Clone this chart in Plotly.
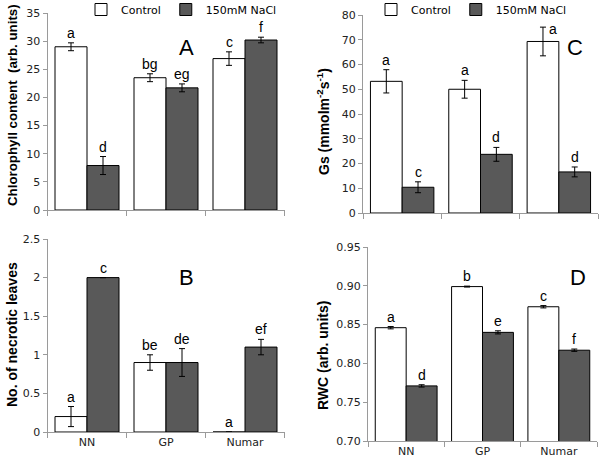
import plotly.graph_objects as go

categories = ["NN", "GP", "Numar"]

chl_ctrl = [29.0, 23.5, 26.9]
chl_ctrl_err = [0.7, 0.7, 1.2]
chl_nacl = [7.9, 21.7, 30.2]
chl_nacl_err = [1.6, 0.7, 0.5]
chl_ctrl_lbl = ["a", "bg", "c"]
chl_nacl_lbl = ["d", "eg", "f"]

nec_ctrl = [0.2, 0.9, 0.0]
nec_ctrl_err = [0.13, 0.1, None]
nec_nacl = [2.0, 0.9, 1.1]
nec_nacl_err = [None, 0.18, 0.1]
nec_ctrl_lbl = ["a", "be", "a"]
nec_nacl_lbl = ["c", "de", "ef"]

gs_ctrl = [53.2, 50.0, 69.3]
gs_ctrl_err = [4.7, 3.6, 5.8]
gs_nacl = [10.4, 23.7, 16.6]
gs_nacl_err = [2.2, 2.8, 2.0]
gs_ctrl_lbl = ["a", "a", "a"]
gs_nacl_lbl = ["c", "d", "d"]

rwc_ctrl = [0.846, 0.899, 0.873]
rwc_ctrl_err = [0.0015, 0.0006, 0.0015]
rwc_nacl = [0.771, 0.840, 0.817]
rwc_nacl_err = [0.0015, 0.002, 0.0015]
rwc_ctrl_lbl = ["a", "b", "c"]
rwc_nacl_lbl = ["d", "e", "f"]

series_names = ["Control", "150mM NaCl"]

W, H = 600, 465
CTRL_FILL = "white"
NACL_FILL = "#595959"
AXIS_COL = "#9a9a9a"
TICK_FONT = dict(family="DejaVu Sans", size=11, color="#222222")
LET_FONT = dict(family="Liberation Sans", size=14, color="black")


def px_x(p):
    return p / W


def px_y(p):
    return (H - p) / H


fig = go.Figure()

panels = [
    ("x", "y", chl_ctrl, chl_ctrl_err, chl_nacl, chl_nacl_err, chl_ctrl_lbl, chl_nacl_lbl, "legend"),
    ("x2", "y2", nec_ctrl, nec_ctrl_err, nec_nacl, nec_nacl_err, nec_ctrl_lbl, nec_nacl_lbl, None),
    ("x3", "y3", gs_ctrl, gs_ctrl_err, gs_nacl, gs_nacl_err, gs_ctrl_lbl, gs_nacl_lbl, "legend2"),
    ("x4", "y4", rwc_ctrl, rwc_ctrl_err, rwc_nacl, rwc_nacl_err, rwc_ctrl_lbl, rwc_nacl_lbl, None),
]

annotations = []
BAR_HALF = (1 - 0.19) / 4.0

for (xa, ya, c, ce, n, ne, cl, nl, leg) in panels:
    for vals, errs, fill, name, lbls, sign in [
        (c, ce, CTRL_FILL, series_names[0], cl, -1),
        (n, ne, NACL_FILL, series_names[1], nl, 1),
    ]:
        kw = {}
        if leg:
            kw["legend"] = leg
        fig.add_trace(go.Bar(
            x=categories, y=vals, name=name, xaxis=xa, yaxis=ya,
            marker=dict(color=fill, line=dict(color="black", width=1)),
            error_y=dict(type="data", array=errs, color="black", thickness=1, width=3, visible=True),
            showlegend=bool(leg), **kw,
        ))
        for i, (v, e, t) in enumerate(zip(vals, errs, lbls)):
            top = v + (e or 0)
            xs, ys = 0, 10
            if xa == "x3" and sign == -1 and i == 2:
                xs, ys = 10, -2
            annotations.append(dict(
                x=i + sign * BAR_HALF, y=top, xref=xa, yref=ya, text=t,
                showarrow=False, font=LET_FONT, yanchor="middle", xanchor="center",
                xshift=xs, yshift=ys,
            ))

common_x = dict(type="category", showline=True, linecolor=AXIS_COL, linewidth=1,
                ticks="outside", tickson="boundaries", tickcolor=AXIS_COL, ticklen=5,
                showgrid=False, zeroline=False, tickfont=TICK_FONT)
common_y = dict(showline=True, linecolor=AXIS_COL, linewidth=1, ticks="outside",
                tickcolor=AXIS_COL, ticklen=4, showgrid=False, zeroline=False,
                tickfont=TICK_FONT)

LEG_FONT = dict(family="DejaVu Sans", size=11, color="black")

fig.update_layout(
    width=W, height=H, margin=dict(l=0, r=0, t=0, b=0, autoexpand=False),
    paper_bgcolor="white", plot_bgcolor="white",
    barmode="group", bargap=0.19, bargroupgap=0,
    xaxis=dict(common_x, domain=[px_x(47.5), px_x(284.5)], anchor="y", showticklabels=False),
    yaxis=dict(common_y, domain=[px_y(210), px_y(13)], anchor="x", range=[0, 35], dtick=5),
    xaxis2=dict(common_x, domain=[px_x(47.5), px_x(284.5)], anchor="y2"),
    yaxis2=dict(common_y, domain=[px_y(432), px_y(239)], anchor="x2", range=[0, 2.5], dtick=0.5),
    xaxis3=dict(common_x, domain=[px_x(363), px_x(598)], anchor="y3", showticklabels=False),
    yaxis3=dict(common_y, domain=[px_y(213), px_y(15)], anchor="x3", range=[0, 80], dtick=10),
    xaxis4=dict(common_x, domain=[px_x(368), px_x(597)], anchor="y4"),
    yaxis4=dict(common_y, domain=[px_y(441), px_y(247)], anchor="x4", range=[0.70, 0.95],
                dtick=0.05, tickformat=".2f"),
    legend=dict(orientation="h", x=px_x(81), y=px_y(-5), xanchor="left", yanchor="top",
                font=LEG_FONT, bgcolor="rgba(0,0,0,0)", itemwidth=30, tracegroupgap=0),
    legend2=dict(orientation="h", x=px_x(371), y=px_y(-5), xanchor="left", yanchor="top",
                 font=LEG_FONT, bgcolor="rgba(0,0,0,0)", itemwidth=30, tracegroupgap=0),
)

TITLE_FONT = dict(family="Liberation Sans", size=14, color="black")
TITLE_FONT_A = dict(family="Liberation Sans", size=13.3, color="black")
PANEL_FONT = dict(family="Liberation Sans", size=22, color="black")
annotations += [
    dict(x=px_x(12), y=px_y(105), xref="paper", yref="paper", text="<b>Chlorophyll content  (arb. units)</b>",
         textangle=-90, showarrow=False, font=TITLE_FONT_A, xanchor="center", yanchor="middle"),
    dict(x=px_x(12), y=px_y(335), xref="paper", yref="paper", text="<b>No. of necrotic leaves</b>",
         textangle=-90, showarrow=False, font=TITLE_FONT, xanchor="center", yanchor="middle"),
    dict(x=px_x(323), y=px_y(122), xref="paper", yref="paper", text="<b>Gs (mmolm<sup>-2</sup>s<sup>-1</sup>)</b>",
         textangle=-90, showarrow=False, font=TITLE_FONT, xanchor="center", yanchor="middle"),
    dict(x=px_x(323), y=px_y(356), xref="paper", yref="paper", text="<b>RWC (arb. units)</b>",
         textangle=-90, showarrow=False, font=TITLE_FONT, xanchor="center", yanchor="middle"),
    dict(x=px_x(177), y=px_y(33), xref="paper", yref="paper", text="A", showarrow=False, font=PANEL_FONT),
    dict(x=px_x(177), y=px_y(277), xref="paper", yref="paper", text="B", showarrow=False, font=PANEL_FONT),
    dict(x=px_x(585), y=px_y(33), xref="paper", yref="paper", text="C", showarrow=False, font=PANEL_FONT),
    dict(x=px_x(588), y=px_y(277), xref="paper", yref="paper", text="D", showarrow=False, font=PANEL_FONT),
]
fig.update_layout(annotations=annotations)

# Remove the browser's default 8px body margin so the 600x465 figure fills the window exactly.
fig.write_html("out.html", config={"displayModeBar": False},
               post_script="document.body.style.margin='0';")
